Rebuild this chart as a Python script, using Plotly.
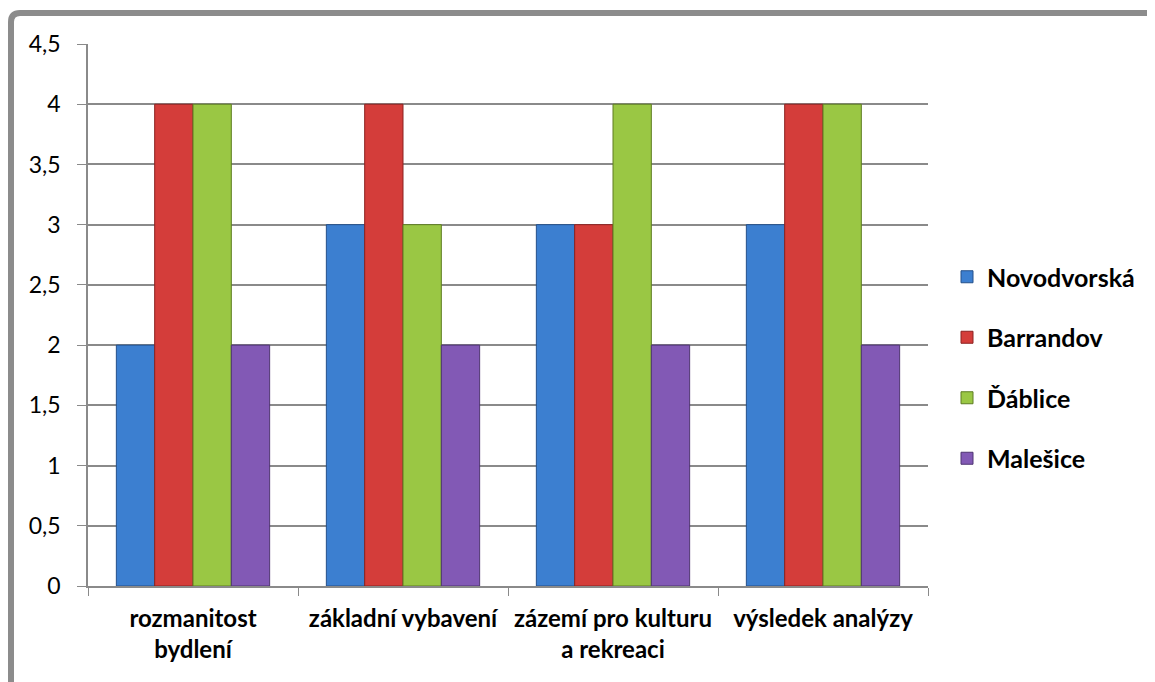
import plotly.graph_objects as go

categories = ["rozmanitost<br>bydlení", "základní vybavení", "zázemí pro kulturu<br>a rekreaci", "výsledek analýzy"]
series_names = ["Novodvorská", "Barrandov", "Ďáblice", "Malešice"]
novodvorska = [2, 3, 3, 3]
barrandov = [4, 4, 3, 4]
dablice = [4, 3, 4, 4]
malesice = [2, 2, 2, 2]
y_ticks = [0, 0.5, 1, 1.5, 2, 2.5, 3, 3.5, 4, 4.5]

colors = ["#3C7FD0", "#D43D3A", "#9AC744", "#8259B5"]
edges = ["#24508A", "#8C2220", "#5E7D22", "#4E3572"]
values = [novodvorska, barrandov, dablice, malesice]

fig = go.Figure()
for i, (name, vals) in enumerate(zip(series_names, values)):
    fig.add_trace(go.Bar(
        x=categories, y=vals, name=name, legendgroup=name,
        marker=dict(color=colors[i], line=dict(color=edges[i], width=1)),
    ))

FONT = "Lato, 'Open Sans', sans-serif"
# page has an 8px body margin; plot area targets x 88..928, y 44..586 on screen
fig.update_layout(
    width=1155, height=682,
    margin=dict(l=80, r=235, t=36, b=104),
    paper_bgcolor="white", plot_bgcolor="white",
    barmode="group", bargap=0.27, bargroupgap=0,
    separators=", ",
    showlegend=True,
    legend=dict(x=(947 - 88) / 840, y=(586 - 254) / 542, xanchor="left", yanchor="top",
                font=dict(family=FONT, size=25, color="black", weight="bold"),
                tracegroupgap=25, itemwidth=30),
    xaxis=dict(showline=True, linecolor="#8a8a8a", linewidth=1.5,
               ticks="outside", tickson="boundaries", ticklen=8, tickcolor="#8a8a8a",
               tickfont=dict(family=FONT, size=24, color="black", weight="bold"),
               tickangle=0, automargin=False,
               ticklabelstandoff=10, showgrid=False),
    yaxis=dict(range=[0, 4.5], tickvals=y_ticks, showline=True, linecolor="#8a8a8a", linewidth=1.5,
               ticks="outside", ticklen=9, tickcolor="#8a8a8a",
               showgrid=True, gridcolor="#8a8a8a", gridwidth=1.5,
               tickfont=dict(family=FONT, size=23, color="black"),
               automargin=False,
               ticklabelstandoff=12, zeroline=False),
    shapes=[dict(type="path", xref="paper", yref="paper",
                 path="M %f %f L %f %f Q %f %f %f %f L %f %f" % (
                     (11 - 88) / 840, -0.4,
                     (11 - 88) / 840, (586 - 22) / 542,
                     (11 - 88) / 840, (586 - 13) / 542,
                     (20 - 88) / 840, (586 - 13) / 542,
                     1.5, (586 - 13) / 542),
                 line=dict(color="#8c8c8c", width=6))],
)

fig.write_html("out.html")
